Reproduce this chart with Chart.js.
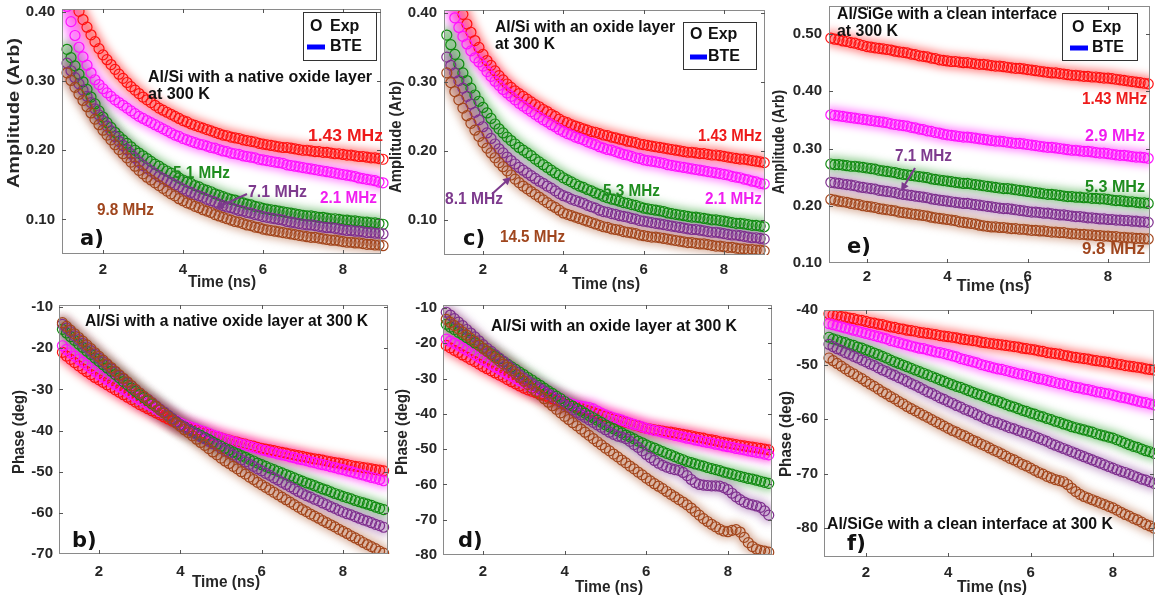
<!DOCTYPE html>
<html><head><meta charset="utf-8">
<script src="https://cdn.jsdelivr.net/npm/chart.js@4.4.0/dist/chart.umd.min.js"></script>
<style>
html,body{margin:0;padding:0;background:#fff;}
body{width:1155px;height:605px;position:relative;overflow:hidden;}
canvas{position:absolute;}
</style></head><body>
<script>
// ---------------- DATA ----------------
const time = [1.1,1.2,1.3,1.4,1.5,1.6,1.7,1.8,1.9,2.0,2.1,2.2,2.3,2.4,2.5,2.6,2.7,2.8,2.9,3.0,3.1,3.2,3.3,3.4,3.5,3.6,3.7,3.8,3.9,4.0,4.1,4.2,4.3,4.4,4.5,4.6,4.7,4.8,4.9,5.0,5.1,5.2,5.3,5.4,5.5,5.6,5.7,5.8,5.9,6.0,6.1,6.2,6.3,6.4,6.5,6.6,6.7,6.8,6.9,7.0,7.1,7.2,7.3,7.4,7.5,7.6,7.7,7.8,7.9,8.0,8.1,8.2,8.3,8.4,8.5,8.6,8.7,8.8,8.9,9.0];
const xTicks = [2,4,6,8];
const ampTicksAC = [0.10,0.20,0.30,0.40];
const ampTicksE = [0.10,0.20,0.30,0.40,0.50];
const phaseTicksB = [-70,-60,-50,-40,-30,-20,-10];
const phaseTicksD = [-80,-70,-60,-50,-40,-30,-20,-10];
const phaseTicksF = [-80,-70,-60,-50,-40];

// panel a: Al/Si native oxide, amplitude
const ampA_143 = [.440,.427,.414,.401,.389,.378,.367,.357,.347,.338,.331,.324,.317,.310,.304,.298,.292,.287,.282,.277,.273,.269,.265,.261,.258,.255,.252,.249,.246,.243,.241,.238,.236,.234,.232,.230,.228,.226,.224,.222,.221,.219,.218,.217,.215,.214,.213,.212,.210,.209,.208,.207,.206,.205,.204,.204,.203,.202,.201,.200,.200,.199,.198,.198,.197,.197,.196,.195,.195,.194,.193,.193,.192,.191,.191,.190,.189,.189,.188,.187];
const ampA_21 = [.408,.386,.366,.349,.335,.323,.312,.302,.295,.289,.283,.278,.273,.269,.265,.261,.257,.253,.249,.246,.243,.240,.237,.234,.231,.228,.225,.222,.220,.217,.215,.213,.211,.209,.208,.206,.204,.203,.201,.199,.198,.196,.195,.194,.192,.191,.190,.189,.187,.186,.185,.184,.183,.182,.181,.179,.178,.177,.176,.175,.174,.173,.172,.171,.170,.169,.168,.167,.166,.165,.164,.163,.162,.160,.159,.158,.157,.156,.154,.153];
const ampA_51 = [.346,.334,.322,.310,.299,.288,.277,.267,.257,.248,.240,.233,.226,.220,.215,.210,.205,.200,.196,.192,.188,.184,.180,.177,.173,.170,.167,.163,.160,.157,.154,.152,.149,.147,.144,.142,.140,.137,.135,.133,.131,.129,.128,.126,.124,.122,.121,.119,.118,.116,.115,.114,.113,.112,.111,.110,.109,.108,.107,.106,.105,.105,.104,.103,.103,.102,.101,.101,.100,.099,.099,.098,.098,.097,.096,.096,.095,.095,.094,.093];
const ampA_71 = [.326,.315,.305,.296,.287,.278,.269,.260,.251,.243,.235,.228,.220,.213,.207,.201,.195,.189,.183,.178,.174,.170,.166,.162,.159,.156,.153,.150,.147,.144,.141,.139,.136,.134,.132,.129,.127,.125,.122,.120,.118,.117,.115,.113,.112,.110,.109,.107,.106,.104,.103,.102,.101,.100,.099,.097,.096,.095,.094,.093,.092,.092,.091,.090,.089,.088,.088,.087,.086,.085,.084,.084,.083,.083,.082,.081,.081,.080,.080,.079];
const ampA_98 = [.312,.301,.291,.281,.272,.263,.254,.245,.237,.229,.222,.215,.208,.201,.195,.189,.183,.177,.171,.166,.161,.157,.153,.149,.145,.141,.137,.134,.130,.127,.124,.122,.119,.117,.114,.112,.110,.107,.105,.103,.101,.099,.097,.096,.094,.092,.091,.089,.088,.086,.085,.084,.083,.082,.081,.080,.079,.078,.077,.076,.075,.074,.074,.073,.072,.071,.070,.070,.069,.068,.067,.067,.066,.066,.065,.064,.064,.063,.063,.062];

// panel c: Al/Si oxide layer, amplitude
const ampC_143 = [.462,.445,.428,.412,.398,.384,.372,.360,.350,.340,.331,.324,.316,.309,.303,.297,.292,.287,.283,.279,.275,.271,.267,.264,.260,.257,.253,.250,.246,.243,.241,.238,.236,.234,.232,.230,.228,.227,.225,.223,.222,.220,.219,.217,.216,.214,.213,.212,.210,.209,.208,.207,.206,.205,.204,.203,.202,.201,.200,.199,.198,.198,.197,.196,.196,.195,.194,.194,.193,.192,.191,.190,.189,.188,.188,.187,.186,.185,.184,.183];
const ampC_21 = [.430,.411,.393,.379,.366,.355,.345,.335,.329,.323,.315,.308,.301,.295,.289,.284,.279,.274,.269,.265,.261,.257,.253,.249,.245,.242,.238,.235,.231,.228,.225,.223,.220,.218,.216,.213,.211,.209,.206,.204,.202,.201,.199,.197,.195,.194,.192,.190,.189,.187,.186,.185,.184,.183,.182,.180,.179,.178,.177,.176,.175,.174,.173,.172,.171,.170,.169,.168,.167,.166,.165,.163,.162,.161,.159,.158,.156,.155,.153,.152];
const ampC_53 = [.368,.354,.340,.326,.313,.302,.291,.281,.272,.263,.255,.247,.239,.232,.226,.220,.215,.210,.205,.201,.197,.193,.188,.184,.180,.176,.172,.168,.165,.161,.158,.155,.152,.149,.147,.144,.142,.139,.137,.134,.132,.130,.129,.127,.125,.124,.122,.121,.119,.117,.116,.115,.114,.113,.112,.110,.109,.108,.107,.106,.105,.104,.104,.103,.102,.101,.100,.100,.099,.098,.097,.096,.095,.095,.094,.093,.092,.092,.091,.090];
const ampC_81 = [.336,.324,.313,.302,.291,.279,.268,.256,.245,.235,.226,.218,.210,.203,.197,.191,.186,.181,.176,.172,.168,.164,.160,.156,.153,.149,.146,.142,.138,.135,.133,.130,.128,.126,.124,.121,.119,.117,.114,.112,.111,.109,.108,.106,.105,.104,.102,.101,.099,.098,.097,.096,.095,.094,.093,.092,.091,.090,.089,.088,.087,.086,.086,.085,.084,.083,.082,.082,.081,.080,.079,.078,.078,.077,.076,.075,.074,.074,.073,.072];
const ampC_145 = [.313,.299,.286,.274,.262,.251,.240,.230,.221,.212,.204,.197,.190,.183,.177,.171,.165,.159,.154,.149,.145,.141,.137,.133,.129,.125,.121,.118,.114,.110,.108,.106,.104,.102,.100,.098,.096,.094,.092,.090,.089,.087,.086,.085,.083,.082,.081,.080,.078,.077,.076,.075,.075,.074,.073,.072,.071,.070,.069,.068,.067,.067,.066,.065,.065,.064,.063,.062,.062,.061,.060,.060,.059,.058,.058,.057,.057,.056,.056,.055];

// panel e: Al/SiGe clean interface, amplitude
const ampE_143 = [.493,.491,.490,.488,.487,.485,.484,.482,.480,.478,.477,.476,.475,.474,.473,.472,.470,.469,.468,.467,.465,.464,.462,.461,.460,.458,.457,.455,.454,.453,.452,.452,.451,.450,.450,.449,.448,.447,.447,.446,.445,.444,.444,.443,.442,.441,.440,.440,.439,.438,.437,.436,.435,.434,.433,.432,.432,.431,.430,.429,.428,.428,.427,.426,.426,.425,.425,.424,.423,.423,.422,.421,.420,.419,.418,.417,.416,.415,.414,.413];
const ampE_29 = [.359,.358,.357,.356,.355,.354,.353,.352,.351,.350,.349,.348,.347,.346,.345,.343,.342,.341,.340,.339,.337,.336,.334,.333,.331,.330,.328,.327,.325,.324,.323,.322,.321,.320,.320,.319,.318,.317,.316,.315,.314,.313,.313,.312,.311,.310,.309,.309,.308,.307,.306,.305,.304,.303,.302,.302,.301,.300,.299,.298,.297,.297,.296,.295,.295,.294,.293,.292,.292,.291,.290,.289,.288,.288,.287,.286,.285,.285,.284,.283];
const ampE_53 = [.273,.272,.272,.271,.270,.269,.269,.268,.267,.266,.265,.264,.262,.261,.260,.259,.258,.256,.255,.254,.253,.252,.251,.250,.249,.247,.246,.245,.244,.243,.242,.241,.240,.239,.239,.238,.237,.236,.235,.234,.233,.232,.231,.230,.230,.229,.228,.227,.226,.225,.224,.223,.222,.221,.220,.220,.219,.218,.217,.216,.216,.215,.215,.214,.214,.213,.213,.212,.212,.211,.210,.209,.209,.208,.207,.207,.206,.205,.205,.204];
const ampE_71 = [.241,.240,.239,.238,.237,.236,.235,.233,.232,.231,.230,.229,.227,.226,.225,.224,.223,.221,.220,.219,.218,.217,.216,.215,.214,.212,.211,.210,.209,.208,.207,.206,.205,.204,.204,.203,.202,.201,.200,.199,.198,.197,.196,.195,.195,.194,.193,.192,.191,.190,.189,.189,.188,.187,.187,.186,.185,.184,.184,.183,.182,.181,.181,.180,.179,.179,.178,.177,.177,.176,.176,.175,.175,.174,.174,.173,.173,.172,.172,.171];
const ampE_98 = [.211,.210,.208,.207,.206,.204,.203,.202,.200,.199,.198,.197,.195,.194,.193,.192,.191,.189,.188,.187,.186,.185,.184,.183,.182,.180,.179,.178,.177,.176,.175,.174,.172,.171,.170,.169,.168,.166,.165,.164,.163,.163,.162,.162,.161,.160,.160,.159,.159,.158,.157,.157,.156,.156,.155,.154,.154,.153,.153,.152,.151,.151,.150,.150,.149,.149,.148,.148,.147,.147,.146,.146,.145,.145,.144,.144,.143,.143,.142,.142];

// panel b: Al/Si native oxide, phase
const phB_143 = [-21.0,-21.9,-22.7,-23.5,-24.3,-25.0,-25.7,-26.4,-27.1,-27.7,-28.3,-28.9,-29.5,-30.1,-30.7,-31.3,-31.9,-32.5,-33.1,-33.7,-34.2,-34.7,-35.2,-35.7,-36.2,-36.7,-37.2,-37.7,-38.1,-38.6,-38.9,-39.3,-39.6,-39.9,-40.2,-40.5,-40.9,-41.2,-41.5,-41.8,-42.1,-42.3,-42.6,-42.8,-43.1,-43.3,-43.6,-43.8,-44.1,-44.3,-44.5,-44.7,-44.9,-45.1,-45.3,-45.5,-45.7,-45.9,-46.1,-46.3,-46.5,-46.7,-46.9,-47.0,-47.2,-47.4,-47.6,-47.8,-47.9,-48.1,-48.3,-48.5,-48.7,-48.8,-49.0,-49.1,-49.3,-49.5,-49.6,-49.8];
const phB_21 = [-19.4,-20.3,-21.1,-21.9,-22.7,-23.4,-24.1,-24.8,-25.6,-26.4,-27.0,-27.6,-28.2,-28.8,-29.4,-30.0,-30.6,-31.2,-31.9,-32.5,-33.1,-33.6,-34.2,-34.8,-35.4,-35.9,-36.5,-37.1,-37.6,-38.2,-38.6,-38.9,-39.3,-39.6,-40.0,-40.3,-40.7,-41.1,-41.4,-41.8,-42.1,-42.4,-42.7,-43.0,-43.3,-43.5,-43.8,-44.1,-44.4,-44.7,-44.9,-45.2,-45.4,-45.7,-45.9,-46.1,-46.4,-46.6,-46.9,-47.1,-47.3,-47.6,-47.8,-48.1,-48.3,-48.5,-48.8,-49.0,-49.3,-49.5,-49.8,-50.0,-50.3,-50.6,-50.8,-51.1,-51.4,-51.6,-51.9,-52.2];
const phB_51 = [-15.4,-16.3,-17.2,-18.1,-19.0,-19.8,-20.7,-21.5,-22.4,-23.2,-24.0,-24.8,-25.6,-26.4,-27.2,-28.1,-28.9,-29.7,-30.5,-31.3,-32.0,-32.8,-33.5,-34.2,-35.0,-35.7,-36.4,-37.1,-37.9,-38.6,-39.1,-39.7,-40.2,-40.7,-41.2,-41.7,-42.2,-42.8,-43.3,-43.8,-44.3,-44.7,-45.2,-45.6,-46.1,-46.5,-47.0,-47.4,-47.9,-48.3,-48.7,-49.1,-49.5,-49.9,-50.3,-50.7,-51.1,-51.5,-51.9,-52.3,-52.7,-53.0,-53.4,-53.8,-54.2,-54.5,-54.9,-55.3,-55.6,-56.0,-56.3,-56.6,-57.0,-57.3,-57.6,-57.9,-58.2,-58.6,-58.9,-59.2];
const phB_71 = [-14.2,-15.1,-16.0,-17.0,-17.9,-18.8,-19.7,-20.6,-21.5,-22.4,-23.3,-24.1,-25.0,-25.8,-26.7,-27.5,-28.4,-29.2,-30.1,-30.9,-31.7,-32.4,-33.2,-34.0,-34.8,-35.5,-36.3,-37.1,-37.8,-38.6,-39.2,-39.7,-40.3,-40.9,-41.5,-42.0,-42.6,-43.2,-43.7,-44.3,-44.9,-45.4,-46.0,-46.5,-47.1,-47.6,-48.2,-48.7,-49.3,-49.8,-50.4,-50.9,-51.5,-52.0,-52.6,-53.1,-53.7,-54.2,-54.8,-55.3,-55.8,-56.2,-56.7,-57.1,-57.6,-58.0,-58.5,-58.9,-59.4,-59.8,-60.2,-60.5,-60.9,-61.3,-61.7,-62.0,-62.4,-62.8,-63.1,-63.5];
const phB_98 = [-13.8,-14.7,-15.6,-16.5,-17.4,-18.3,-19.2,-20.1,-21.1,-22.0,-22.9,-23.8,-24.7,-25.6,-26.5,-27.3,-28.2,-29.1,-30.0,-30.9,-31.7,-32.5,-33.3,-34.1,-35.0,-35.8,-36.6,-37.4,-38.2,-39.0,-39.8,-40.5,-41.3,-42.1,-42.9,-43.6,-44.4,-45.2,-45.9,-46.7,-47.4,-48.0,-48.7,-49.3,-50.0,-50.6,-51.3,-51.9,-52.6,-53.2,-53.8,-54.4,-55.0,-55.6,-56.2,-56.8,-57.4,-58.0,-58.6,-59.2,-59.7,-60.3,-60.8,-61.3,-61.9,-62.4,-62.9,-63.4,-64.0,-64.5,-65.0,-65.6,-66.1,-66.6,-67.2,-67.7,-68.2,-68.7,-69.3,-69.8];

// panel d: Al/Si oxide layer, phase
const phD_143 = [-20.6,-21.3,-22.0,-22.6,-23.3,-23.9,-24.6,-25.2,-25.9,-26.6,-27.2,-27.8,-28.4,-29.0,-29.6,-30.3,-30.9,-31.5,-32.1,-32.7,-33.2,-33.6,-34.0,-34.4,-34.8,-35.3,-35.7,-36.1,-36.5,-37.0,-37.4,-37.8,-38.1,-38.5,-38.9,-39.2,-39.6,-40.0,-40.3,-40.7,-41.0,-41.4,-41.7,-42.1,-42.4,-42.7,-43.1,-43.4,-43.8,-44.1,-44.3,-44.5,-44.7,-44.9,-45.1,-45.2,-45.4,-45.6,-45.8,-46.0,-46.2,-46.5,-46.7,-46.9,-47.2,-47.4,-47.6,-47.9,-48.1,-48.3,-48.5,-48.7,-48.9,-49.1,-49.3,-49.4,-49.6,-49.8,-50.0,-50.2];
const phD_21 = [-18.8,-19.4,-20.0,-20.6,-21.3,-21.9,-22.5,-23.2,-24.0,-24.7,-25.4,-26.0,-26.7,-27.3,-28.0,-28.7,-29.3,-30.0,-30.6,-31.3,-31.8,-32.3,-32.9,-33.4,-33.9,-34.4,-34.9,-35.5,-36.0,-36.5,-36.9,-37.3,-37.6,-37.8,-38.0,-38.2,-38.6,-39.2,-39.8,-40.3,-40.7,-41.1,-41.4,-41.8,-42.2,-42.6,-43.0,-43.3,-43.7,-44.1,-44.4,-44.7,-44.9,-45.2,-45.5,-45.8,-46.1,-46.3,-46.6,-46.9,-47.1,-47.4,-47.6,-47.9,-48.1,-48.3,-48.6,-48.8,-49.1,-49.3,-49.5,-49.8,-50.0,-50.2,-50.5,-50.7,-50.9,-51.1,-51.4,-51.6];
const phD_53 = [-14.6,-15.4,-16.1,-16.9,-17.6,-18.4,-19.1,-19.9,-20.6,-21.4,-22.2,-22.9,-23.7,-24.4,-25.2,-25.9,-26.7,-27.4,-28.2,-28.9,-29.7,-30.4,-31.2,-31.9,-32.7,-33.5,-34.2,-35.0,-35.7,-36.5,-37.2,-37.8,-38.5,-39.1,-39.8,-40.5,-41.1,-41.8,-42.4,-43.1,-43.7,-44.2,-44.8,-45.4,-46.0,-46.5,-47.1,-47.7,-48.2,-48.8,-49.3,-49.7,-50.2,-50.7,-51.2,-51.6,-52.1,-52.6,-53.0,-53.5,-53.8,-54.2,-54.5,-54.8,-55.2,-55.5,-55.8,-56.1,-56.5,-56.8,-57.1,-57.4,-57.7,-58.0,-58.3,-58.5,-58.8,-59.1,-59.4,-59.7];
const phD_81 = [-11.2,-12.0,-13.0,-14.0,-15.0,-16.1,-17.1,-18.2,-19.3,-20.4,-21.4,-22.3,-23.3,-24.2,-25.1,-26.1,-27.0,-28.0,-29.0,-29.9,-30.7,-31.4,-32.2,-32.9,-33.7,-34.4,-35.2,-35.9,-36.7,-37.5,-38.2,-38.9,-39.6,-40.3,-41.0,-41.7,-42.4,-43.1,-43.8,-44.5,-45.2,-45.8,-46.3,-46.6,-47.0,-47.8,-48.7,-49.5,-50.5,-51.5,-52.4,-53.2,-54.0,-54.6,-55.1,-55.5,-55.8,-56.0,-56.6,-57.5,-58.6,-59.5,-60.0,-60.2,-60.3,-60.4,-60.4,-60.5,-60.9,-61.5,-62.5,-63.5,-64.3,-65.0,-65.5,-65.8,-66.1,-66.5,-67.5,-68.7];
const phD_145 = [-13.2,-14.1,-15.0,-15.9,-16.8,-17.7,-18.6,-19.5,-20.5,-21.4,-22.3,-23.2,-24.1,-25.0,-25.9,-26.8,-27.7,-28.7,-29.7,-30.7,-31.7,-32.7,-33.7,-34.7,-35.7,-36.7,-37.7,-38.7,-39.7,-40.7,-41.6,-42.5,-43.4,-44.3,-45.2,-46.1,-47.0,-47.9,-48.8,-49.7,-50.5,-51.4,-52.2,-53.1,-53.9,-54.8,-55.6,-56.5,-57.3,-58.2,-59.0,-59.8,-60.5,-61.2,-62.0,-62.8,-63.5,-64.3,-65.0,-65.8,-66.7,-67.7,-68.7,-69.7,-70.5,-71.3,-72.0,-72.7,-73.2,-73.4,-73.0,-72.8,-73.5,-75.0,-76.5,-77.6,-78.3,-78.7,-78.9,-79.2];

// panel f: Al/SiGe clean interface, phase
const phF_143 = [-40.7,-40.9,-41.0,-41.2,-41.3,-41.5,-41.6,-41.8,-41.9,-42.1,-42.3,-42.4,-42.6,-42.7,-42.9,-43.1,-43.2,-43.4,-43.5,-43.7,-43.8,-43.9,-44.1,-44.2,-44.3,-44.4,-44.5,-44.7,-44.8,-44.9,-45.0,-45.1,-45.3,-45.4,-45.5,-45.6,-45.7,-45.9,-46.0,-46.1,-46.2,-46.3,-46.4,-46.5,-46.6,-46.7,-46.8,-47.0,-47.1,-47.2,-47.3,-47.5,-47.6,-47.8,-47.9,-48.0,-48.1,-48.3,-48.4,-48.6,-48.7,-48.8,-48.9,-49.0,-49.2,-49.3,-49.4,-49.5,-49.6,-49.8,-49.9,-50.0,-50.2,-50.3,-50.4,-50.5,-50.6,-50.8,-50.9,-51.0];
const phF_29 = [-42.5,-42.7,-42.9,-43.1,-43.3,-43.5,-43.7,-43.9,-44.1,-44.3,-44.5,-44.7,-44.9,-45.1,-45.3,-45.6,-45.8,-46.0,-46.2,-46.4,-46.6,-46.8,-47.0,-47.1,-47.3,-47.5,-47.7,-47.8,-48.0,-48.2,-48.4,-48.6,-48.9,-49.1,-49.3,-49.5,-49.7,-50.0,-50.2,-50.4,-50.6,-50.8,-50.9,-51.1,-51.3,-51.5,-51.7,-51.8,-52.0,-52.2,-52.4,-52.6,-52.7,-52.9,-53.1,-53.3,-53.5,-53.6,-53.8,-54.0,-54.2,-54.3,-54.5,-54.6,-54.8,-55.0,-55.1,-55.3,-55.4,-55.6,-55.8,-56.0,-56.1,-56.3,-56.5,-56.7,-56.9,-57.0,-57.2,-57.4];
const phF_53 = [-45.0,-45.3,-45.5,-45.8,-46.0,-46.3,-46.5,-46.8,-47.0,-47.3,-47.6,-47.9,-48.2,-48.5,-48.8,-49.2,-49.5,-49.8,-50.1,-50.4,-50.7,-51.0,-51.3,-51.6,-51.9,-52.2,-52.5,-52.8,-53.1,-53.4,-53.7,-54.0,-54.2,-54.5,-54.8,-55.1,-55.4,-55.6,-55.9,-56.2,-56.5,-56.7,-57.0,-57.3,-57.6,-57.8,-58.1,-58.4,-58.6,-58.9,-59.1,-59.4,-59.6,-59.9,-60.1,-60.4,-60.6,-60.9,-61.1,-61.4,-61.6,-61.8,-62.0,-62.2,-62.4,-62.7,-62.9,-63.1,-63.3,-63.5,-63.8,-64.1,-64.4,-64.7,-65.0,-65.2,-65.5,-65.8,-66.0,-66.3];
const phF_71 = [-46.3,-46.7,-47.1,-47.4,-47.8,-48.1,-48.5,-48.8,-49.2,-49.5,-49.9,-50.2,-50.6,-51.0,-51.3,-51.7,-52.0,-52.4,-52.7,-53.1,-53.5,-53.8,-54.2,-54.6,-55.0,-55.3,-55.7,-56.1,-56.4,-56.8,-57.1,-57.5,-57.8,-58.2,-58.5,-58.8,-59.2,-59.5,-59.9,-60.2,-60.5,-60.7,-61.0,-61.3,-61.6,-61.8,-62.1,-62.4,-62.6,-62.9,-63.2,-63.5,-63.8,-64.1,-64.5,-64.8,-65.1,-65.4,-65.7,-66.0,-66.3,-66.6,-66.9,-67.2,-67.5,-67.8,-68.1,-68.4,-68.7,-69.0,-69.3,-69.6,-69.8,-70.1,-70.4,-70.7,-71.0,-71.2,-71.5,-71.8];
const phF_98 = [-48.8,-49.3,-49.8,-50.3,-50.8,-51.3,-51.7,-52.2,-52.6,-53.1,-53.6,-54.0,-54.5,-55.0,-55.4,-55.9,-56.3,-56.8,-57.2,-57.7,-58.1,-58.5,-58.9,-59.3,-59.7,-60.1,-60.5,-60.9,-61.3,-61.7,-62.1,-62.4,-62.8,-63.1,-63.5,-63.9,-64.2,-64.6,-64.9,-65.3,-65.7,-66.0,-66.4,-66.8,-67.2,-67.5,-67.9,-68.3,-68.6,-69.0,-69.4,-69.8,-70.1,-70.5,-70.8,-71.1,-71.3,-71.5,-72.0,-72.7,-73.3,-73.8,-74.2,-74.5,-74.8,-75.1,-75.4,-75.7,-76.0,-76.3,-76.7,-77.1,-77.5,-77.8,-78.2,-78.5,-78.9,-79.3,-79.6,-80.0];

// ---------------- STYLE ----------------
const COL = {
  red:{pt:'#ff1010', glow:'rgba(255,0,0,0.5)', txt:'#ee1a1a'},
  mag:{pt:'#ff10ff', glow:'rgba(255,0,255,0.5)', txt:'#f01ef0'},
  grn:{pt:'#118a11', glow:'rgba(0,140,0,0.45)', txt:'#1e8c1e'},
  pur:{pt:'#7e2f8e', glow:'rgba(126,47,142,0.45)', txt:'#7d3a8d'},
  brn:{pt:'#a3461c', glow:'rgba(166,75,30,0.45)', txt:'#a0461e'}
};
const SANS = '"Liberation Sans", Arial, Helvetica, sans-serif';
const DEJA = '"DejaVu Sans", sans-serif';
const AX = '#262626';

function drawText(ctx, n, ox, oy){
  ctx.save();
  ctx.font = 'bold ' + (n.size||16) + 'px ' + (n.family||SANS);
  ctx.fillStyle = n.color || '#111';
  ctx.textBaseline = 'middle';
  ctx.textAlign = 'left';
  const m = ctx.measureText(n.text).width;
  const sx = n.w ? n.w / m : 1;
  ctx.translate(n.x - ox, n.y - oy);
  if (n.rot) ctx.rotate(-Math.PI/2);
  ctx.scale(sx, 1);
  ctx.fillText(n.text, n.anchor === 'center' ? -m/2 : 0, 0);
  ctx.restore();
}
function drawArrow(ctx, a, ox, oy){
  const x1=a.x1-ox, y1=a.y1-oy, x2=a.x2-ox, y2=a.y2-oy;
  const ang = Math.atan2(y2-y1, x2-x1), L=8, W=4;
  ctx.save();
  ctx.strokeStyle = a.color; ctx.fillStyle = a.color; ctx.lineWidth = 2;
  ctx.beginPath(); ctx.moveTo(x1,y1); ctx.lineTo(x2 - L*0.8*Math.cos(ang), y2 - L*0.8*Math.sin(ang)); ctx.stroke();
  ctx.beginPath();
  ctx.moveTo(x2,y2);
  ctx.lineTo(x2 - L*Math.cos(ang) + W*Math.sin(ang), y2 - L*Math.sin(ang) - W*Math.cos(ang));
  ctx.lineTo(x2 - L*Math.cos(ang) - W*Math.sin(ang), y2 - L*Math.sin(ang) + W*Math.cos(ang));
  ctx.closePath(); ctx.fill();
  ctx.restore();
}
function drawLegend(ctx, L, ox, oy){
  ctx.save();
  ctx.fillStyle = '#fff'; ctx.strokeStyle = '#333'; ctx.lineWidth = 1;
  ctx.fillRect(L.x1-ox, L.y1-oy, L.x2-L.x1, L.y2-L.y1);
  ctx.strokeRect(L.x1-ox+0.5, L.y1-oy+0.5, L.x2-L.x1, L.y2-L.y1);
  ctx.restore();
  drawText(ctx, {text:'O', x:L.ox, y:L.ey, size:16, color:'#111'}, ox, oy);
  drawText(ctx, {text:'Exp', x:L.tx, y:L.ey, size:16, color:'#111'}, ox, oy);
  ctx.save(); ctx.strokeStyle = '#0000ff'; ctx.lineWidth = 5;
  ctx.beginPath(); ctx.moveTo(L.lx1-ox, L.by-oy); ctx.lineTo(L.lx2-ox, L.by-oy); ctx.stroke(); ctx.restore();
  drawText(ctx, {text:'BTE', x:L.tx, y:L.by, size:16, color:'#111'}, ox, oy);
}

const glowPlugin = {
  id:'glow',
  beforeDatasetDraw(chart, args){
    const ds = chart.data.datasets[args.index];
    if (ds.glow){ chart.ctx.save(); chart.ctx.filter = 'blur(4px)'; }
  },
  afterDatasetDraw(chart, args){
    const ds = chart.data.datasets[args.index];
    if (ds.glow){ chart.ctx.restore(); }
  }
};
const framePlugin = {
  id:'frame',
  afterDraw(chart){
    const o = chart.options.plugins.frame;
    const ctx = chart.ctx, a = chart.chartArea;
    ctx.save();
    ctx.strokeStyle = '#8a8a8a'; ctx.lineWidth = 1;
    ctx.strokeRect(Math.round(a.left)+0.5, Math.round(a.top)+0.5, Math.round(a.right-a.left)-1, Math.round(a.bottom-a.top)-1);
    ctx.strokeStyle = '#555';
    const xs = chart.scales.x, ys = chart.scales.y, T = 4;
    ctx.beginPath();
    xs.ticks.forEach(t=>{ const p = Math.round(xs.getPixelForValue(t.value))+0.5;
      ctx.moveTo(p, a.bottom); ctx.lineTo(p, a.bottom-T); ctx.moveTo(p, a.top); ctx.lineTo(p, a.top+T); });
    ys.ticks.forEach(t=>{ const p = Math.round(ys.getPixelForValue(t.value))+0.5;
      if (p < a.top+1 || p > a.bottom-1) return;
      ctx.moveTo(a.left, p); ctx.lineTo(a.left+T, p); ctx.moveTo(a.right, p); ctx.lineTo(a.right-T, p); });
    ctx.stroke();
    ctx.restore();
    (o.notes||[]).forEach(n => drawText(ctx, n, o.ox, o.oy));
    (o.arrows||[]).forEach(ar => drawArrow(ctx, ar, o.ox, o.oy));
    if (o.legend) drawLegend(ctx, o.legend, o.ox, o.oy);
  }
};

function panel(p){
  const cv = document.createElement('canvas');
  cv.width = p.w; cv.height = p.h;
  cv.style.left = p.left+'px'; cv.style.top = p.top+'px';
  cv.style.width = p.w+'px'; cv.style.height = p.h+'px';
  document.body.appendChild(cv);
  const datasets = [];
  p.series.forEach((s,i)=>{
    const pts = s.data.map((v,k)=>({x:time[k], y:v}));
    datasets.push({type:'line', data:pts, borderColor:COL[s.c].glow, borderWidth:15, pointRadius:0,
      borderJoinStyle:'round', borderCapStyle:'round', glow:true, order:100-i, clip:0, fill:false});
    datasets.push({type:'scatter', data:pts, pointStyle:'circle', pointRadius:5, borderColor:COL[s.c].pt,
      backgroundColor:'rgba(0,0,0,0)', borderWidth:1.2, showLine:false, order:10-i,
      clip:{left:8, right:8, top:0, bottom:0}});
  });
  const tickFont = {family:SANS, size:15, weight:'bold'};
  new Chart(cv, {
    type:'scatter',
    data:{datasets},
    options:{
      responsive:false, animation:false, devicePixelRatio:1, events:[],
      layout:{autoPadding:false, padding:{left:0, top:p.padT, right:p.padR, bottom:0}},
      plugins:{legend:{display:false}, tooltip:{enabled:false},
        frame:{ox:p.left, oy:p.top, notes:p.notes, arrows:p.arrows, legend:p.legend}},
      scales:{
        x:{type:'linear', min:p.xmin, max:p.xmax,
          afterBuildTicks:s=>{ s.ticks = xTicks.map(v=>({value:v})); },
          afterFit:s=>{ s.height = p.xH; s.paddingLeft=0; s.paddingRight=0; },
          grid:{display:false, drawTicks:false}, border:{display:false},
          ticks:{font:tickFont, color:AX, padding:p.xPad, maxRotation:0, autoSkip:false, callback:v=>String(v)}},
        y:{type:'linear', min:p.ymin, max:p.ymax,
          afterBuildTicks:s=>{ s.ticks = p.yTicks.map(v=>({value:v})); },
          afterFit:s=>{ s.width = p.yW; s.paddingTop=0; s.paddingBottom=0; },
          grid:{display:false, drawTicks:false}, border:{display:false},
          ticks:{font:tickFont, color:AX, padding:p.yPad, autoSkip:false, callback:p.fmt}}
      }
    },
    plugins:[glowPlugin, framePlugin]
  });
}

const amp = v => v.toFixed(2);
const deg = v => String(v);
const tTitle = (x,y,w) => ({text:'Time (ns)', x, y, w, size:16, color:AX, anchor:'center'});
const yTitle = (t,x,y,w) => ({text:t, x, y, w, size:16, color:AX, anchor:'center', rot:true});
const lab = (t,c,x,y,w) => ({text:t, x, y, w, size:16, color:COL[c].txt});
const letter = (t,x,y) => ({text:t, x, y, size:21, family:DEJA, color:'#111'});

// ---- panel a ----
panel({left:0, top:0, w:390, h:295, padT:9, padR:9, yW:62, xH:41, xPad:7, yPad:7,
  xmin:0.975, xmax:8.95, ymin:0.05, ymax:0.4043, yTicks:ampTicksAC, fmt:amp,
  series:[{data:ampA_143,c:'red'},{data:ampA_21,c:'mag'},{data:ampA_51,c:'grn'},{data:ampA_71,c:'pur'},{data:ampA_98,c:'brn'}],
  notes:[yTitle('Amplitude (Arb)',15,113,150), tTitle(222,283,68),
    {text:'Al/Si with a native oxide layer', x:148, y:78, w:224, size:16},
    {text:'at 300 K', x:148, y:95, w:62, size:16},
    letter('a)',80,240),
    lab('1.43 MHz','red',308,137,75), lab('2.1 MHz','mag',320,199,57), lab('5.1 MHz','grn',173,174,57),
    lab('7.1 MHz','pur',248,193,59), lab('9.8 MHz','brn',97,211,57)],
  arrows:[{x1:247,y1:194,x2:216,y2:208,color:COL.pur.txt}],
  legend:{x1:303,y1:12,x2:376,y2:60, ox:310, tx:330, ey:27, by:47, lx1:307, lx2:325}
});
// ---- panel c ----
panel({left:385, top:0, w:385, h:295, padT:10, padR:5, yW:59, xH:40, xPad:6, yPad:7,
  xmin:1.03, xmax:9.02, ymin:0.049, ymax:0.4043, yTicks:ampTicksAC, fmt:amp,
  series:[{data:ampC_143,c:'red'},{data:ampC_21,c:'mag'},{data:ampC_53,c:'grn'},{data:ampC_81,c:'pur'},{data:ampC_145,c:'brn'}],
  notes:[yTitle('Amplitude (Arb)',397,137,112), tTitle(606,285,68),
    {text:'Al/Si with an oxide layer', x:495, y:28, w:180, size:16},
    {text:'at 300 K', x:495, y:45, w:60, size:16},
    letter('c)',463,240),
    lab('1.43 MHz','red',698,137,64), lab('2.1 MHz','mag',705,200,57), lab('5.3 MHz','grn',603,192,57),
    lab('8.1 MHz','pur',445,200,58), lab('14.5 MHz','brn',500,238,65)],
  arrows:[{x1:492,y1:194,x2:511,y2:177,color:COL.pur.txt}],
  legend:{x1:683,y1:22,x2:756,y2:69, ox:690, tx:708, ey:35, by:57, lx1:690, lx2:707}
});
// ---- panel e ----
panel({left:770, top:0, w:385, h:295, padT:6, padR:5, yW:59, xH:32, xPad:5, yPad:7,
  xmin:1.054, xmax:9.045, ymin:0.10, ymax:0.549, yTicks:ampTicksE, fmt:amp,
  series:[{data:ampE_143,c:'red'},{data:ampE_29,c:'mag'},{data:ampE_53,c:'grn'},{data:ampE_71,c:'pur'},{data:ampE_98,c:'brn'}],
  notes:[yTitle('Amplitude (Arb)',780,142,104), tTitle(993,287,73),
    {text:'Al/SiGe with a clean interface', x:837, y:15, w:220, size:16},
    {text:'at 300 K', x:837, y:32, w:61, size:16},
    letter('e)',847,248),
    lab('1.43 MHz','red',1082,100,65), lab('2.9 MHz','mag',1085,137,60), lab('7.1 MHz','pur',895,157,57),
    lab('5.3 MHz','grn',1085,188,60), lab('9.8 MHz','brn',1082,250,63)],
  arrows:[{x1:915,y1:168,x2:901,y2:191,color:COL.pur.txt}],
  legend:{x1:1062,y1:13,x2:1137,y2:60, ox:1072, tx:1092, ey:28, by:48, lx1:1070, lx2:1088}
});
// ---- panel b ----
panel({left:0, top:295, w:390, h:310, padT:10, padR:2, yW:59, xH:51, xPad:9, yPad:6,
  xmin:1.016, xmax:9.107, ymin:-70, ymax:-9.5, yTicks:phaseTicksB, fmt:deg,
  series:[{data:phB_143,c:'red'},{data:phB_21,c:'mag'},{data:phB_51,c:'grn'},{data:phB_71,c:'pur'},{data:phB_98,c:'brn'}],
  notes:[yTitle('Phase (deg)',20,432,84), tTitle(226,583,68),
    {text:'Al/Si with a native oxide layer at 300 K', x:85, y:322, w:283, size:16},
    letter('b)',72,542)]
});
// ---- panel d ----
panel({left:385, top:295, w:390, h:310, padT:10, padR:3, yW:58, xH:50, xPad:8, yPad:6,
  xmin:1.02, xmax:9.08, ymin:-80, ymax:-9.15, yTicks:phaseTicksD, fmt:deg,
  series:[{data:phD_143,c:'red'},{data:phD_21,c:'mag'},{data:phD_53,c:'grn'},{data:phD_81,c:'pur'},{data:phD_145,c:'brn'}],
  notes:[yTitle('Phase (deg)',403,432,86), tTitle(609,588,68),
    {text:'Al/Si with an oxide layer at 300 K', x:491, y:327, w:246, size:16},
    letter('d)',458,542)]
});
// ---- panel f ----
panel({left:770, top:295, w:385, h:310, padT:15, padR:1, yW:54, xH:48, xPad:7, yPad:6,
  xmin:0.98, xmax:9.0, ymin:-85.3, ymax:-40, yTicks:phaseTicksF, fmt:deg,
  series:[{data:phF_143,c:'red'},{data:phF_29,c:'mag'},{data:phF_53,c:'grn'},{data:phF_71,c:'pur'},{data:phF_98,c:'brn'}],
  notes:[yTitle('Phase (deg)',787,434,86), tTitle(992,588,70),
    {text:'Al/SiGe with a clean interface at 300 K', x:827, y:525, w:286, size:16},
    letter('f)',847,545)]
});
</script>
</body></html>
